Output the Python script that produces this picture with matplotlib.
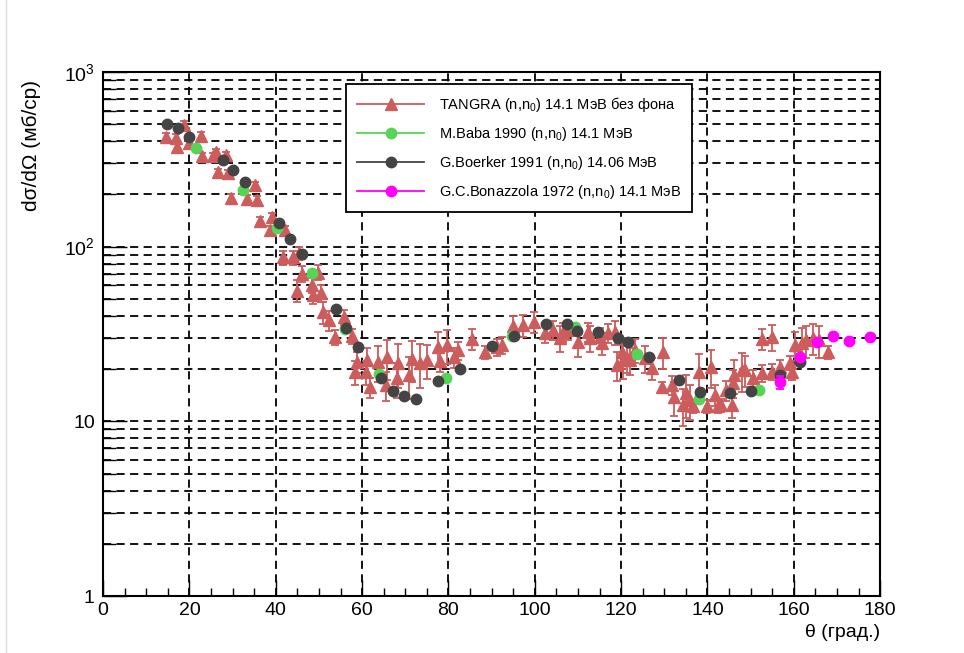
import math
import matplotlib
matplotlib.use("Agg")
import matplotlib.pyplot as plt
from matplotlib.ticker import MultipleLocator, LogLocator, NullFormatter, FuncFormatter
from matplotlib.lines import Line2D

plt.rcParams["font.family"] = ["Liberation Sans", "DejaVu Sans"]
plt.rcParams["mathtext.default"] = "regular"

# TANGRA (n,n0) 14.1 MeV, background subtracted
tangra_theta = [14.6, 16.9, 17.1, 18.8, 19.9, 22.7, 22.9, 25.5, 26.2, 26.6,
                28.5, 29.0, 29.7, 33.4, 35.2, 35.7, 36.4, 38.7, 39.1, 41.7,
                42.2, 44.0, 45.4, 44.9, 46.1, 48.4, 48.6, 49.8, 50.5, 51.0,
                52.4, 53.7, 55.8, 57.7, 58.4, 58.8, 60.9, 61.2, 61.8, 63.7,
                65.6, 65.8, 68.1, 68.3, 70.9, 71.6, 73.4, 75.0, 77.6, 78.1,
                79.7, 81.3, 82.2, 85.5, 88.5, 91.2, 92.4, 95.0, 97.3, 99.9,
                102.4, 104.2, 105.8, 106.6, 107.7, 110.0, 112.4, 112.8, 115.1, 115.6,
                117.0, 118.6, 119.0, 120.2, 120.5, 121.4, 122.1, 123.2, 125.5, 127.2,
                129.5, 129.7, 131.8, 132.3, 134.4, 135.1, 136.0, 136.7, 138.1, 139.9,
                140.9, 141.8, 142.5, 143.2, 144.3, 145.7, 145.9, 146.2, 148.0, 148.7,
                150.6, 152.6, 152.6, 155.0, 155.0, 156.8, 159.1, 159.6, 160.3, 161.9,
                162.9, 164.5, 165.9, 167.9]
tangra_xs = [424, 420, 371, 497, 392, 430, 330, 330, 348, 267,
             334, 264, 190, 187, 225, 185, 140, 124, 148, 87,
             124, 87, 92, 56, 70, 60, 53, 71, 54, 42,
             38, 30.4, 39.6, 30.8, 19.2, 21.9, 19.2, 22.4, 15.7, 21.9,
             16.1, 23.3, 17.7, 21.6, 18.4, 22.7, 21.6, 22.4, 26.6, 22.1,
             27.3, 23.3, 25.6, 29.6, 24.9, 26.6, 27.3, 35.1, 35.6, 37.0,
             32.0, 33.3, 30.0, 32.5, 33.3, 28.4, 32.5, 30.0, 30.4, 28.1,
             32.0, 32.5, 21.0, 24.9, 22.4, 23.0, 22.4, 25.6, 23.0, 20.2,
             15.7, 24.9, 16.1, 13.8, 12.4, 14.5, 13.2, 12.2, 19.2, 12.2,
             20.5, 14.2, 12.2, 12.4, 15.1, 12.4, 16.6, 18.4, 19.7, 19.7,
             17.7, 29.6, 18.9, 19.2, 30.4, 20.5, 21.6, 19.2, 27.3, 28.1,
             29.2, 30.0, 29.2, 24.9]
tangra_err = [20, 20, 20, 25, 20, 20, 15, 15, 15, 12,
              15, 12, 10, 10, 10, 10, 8, 8, 8, 8,
              8, 8, 8, 8, 7, 6, 6, 7, 6, 6,
              5, 3, 4, 3, 3, 3, 3, 4, 2, 5,
              3, 6, 4, 6, 5, 6, 6, 5, 6, 3,
              6, 3, 3, 4, 2, 3, 3, 5, 5, 5,
              4, 4, 5, 4, 4, 5, 4, 5, 4, 4,
              4, 5, 4, 5, 5, 4, 4, 4, 4, 3,
              1, 5, 2, 3, 3, 4, 3, 1, 5, 1,
              5, 2, 1, 1, 2, 2, 3, 4, 5, 4,
              2, 4, 2, 2, 5, 2, 2, 2, 5, 6,
              6, 6, 6, 2]

# M.Baba 1990
baba_theta = [21.5, 32.4, 40.3, 48.4, 56.0, 63.9, 79.4, 94.7, 109.3, 123.7, 138.1, 151.9]
baba_xs = [367, 211, 128, 70.6, 33.8, 18.7, 17.7, 30.8, 34.7, 24.3, 13.4, 15.1]

# G.Boerker 1991
boerker_theta = [14.8, 17.4, 19.9, 27.8, 30.1, 32.9, 40.8, 43.3, 46.1, 54.0,
                 56.3, 59.1, 64.4, 67.2, 69.7, 72.5, 77.6, 82.7, 90.1, 95.2,
                 102.6, 107.5, 109.8, 114.7, 119.3, 121.6, 126.5, 133.4, 138.3, 145.2,
                 150.1, 156.8, 161.4]
boerker_xs = [503, 477, 424, 313, 274, 234, 136, 111, 90.7, 44,
              34.2, 26.6, 17.7, 14.9, 13.9, 13.4, 17.0, 19.9, 27.0, 30.8,
              36.1, 36.1, 32.9, 32.5, 30.0, 28.4, 23.4, 17.2, 14.7, 14.5,
              14.9, 18.4, 21.9]

# G.C.Bonazzola 1972
bonaz_theta = [156.8, 161.4, 165.4, 169.1, 172.8, 177.7]
bonaz_xs = [16.8, 23.3, 28.4, 30.8, 28.8, 30.4]
bonaz_err = [1.5, 1.0, 0.8, 0.8, 0.8, 0.8]

red = "#cd5c5c"
green = "#55d455"
dark = "#444444"
magenta = "#ff00ff"

fig = plt.figure(figsize=(9.64, 6.53), dpi=100)
ax = fig.add_axes([0.107, 0.087, 0.806, 0.803])

ax.errorbar(tangra_theta, tangra_xs, yerr=tangra_err, fmt="^", color=red,
            ms=8, elinewidth=1.3, capsize=3, capthick=1.3, zorder=3)
ax.plot(baba_theta, baba_xs, "o", color=green, ms=7.5, zorder=4)
ax.plot(boerker_theta, boerker_xs, "o", color=dark, ms=7.5, zorder=5)
ax.errorbar(bonaz_theta, bonaz_xs, yerr=bonaz_err, fmt="o", color=magenta,
            ms=7.5, elinewidth=1.3, capsize=3, capthick=1.3, zorder=6)

ax.set_xlim(0, 180)
ax.set_yscale("log")
ax.set_ylim(1, 1000)

ax.xaxis.set_major_locator(MultipleLocator(20))
ax.xaxis.set_minor_locator(MultipleLocator(5))
ax.yaxis.set_major_locator(LogLocator(base=10))
ax.yaxis.set_minor_locator(LogLocator(base=10, subs=range(2, 10)))
ax.yaxis.set_minor_formatter(NullFormatter())


def decade_label(v, pos):
    if v < 1.5:
        return "1"
    if v < 15:
        return "10"
    return "$10^{%d}$" % round(math.log10(v))


ax.yaxis.set_major_formatter(FuncFormatter(decade_label))

ax.tick_params(axis="x", which="major", direction="in", length=11.5, width=1,
               labelsize=14, pad=4)
ax.tick_params(axis="x", which="minor", direction="in", length=6, width=1)
ax.tick_params(axis="y", which="major", direction="in", length=17, width=1,
               labelsize=14, pad=6)
ax.tick_params(axis="y", which="minor", direction="in", length=9.5, width=1)

dash = (0, (4.5, 3))
ax.grid(True, axis="x", which="major", color="black", linestyle=dash, lw=1.3)
ax.grid(True, axis="y", which="both", color="black", linestyle=dash, lw=1.3)
ax.set_axisbelow(True)

for s in ax.spines.values():
    s.set_linewidth(1.5)

ax.set_xlabel("θ (град.)", fontsize=14, loc="right", labelpad=4)
ax.set_ylabel("dσ/dΩ (мб/ср)", fontsize=15, loc="top", labelpad=10)
ax.yaxis.set_label_coords(-0.08, 0.985, transform=ax.transAxes)
ax.yaxis.label.set_horizontalalignment("right")

handles = [
    Line2D([], [], color=red, marker="^", ms=8, lw=1.3),
    Line2D([], [], color=green, marker="o", ms=7.5, lw=1.3),
    Line2D([], [], color=dark, marker="o", ms=7.5, lw=1.3),
    Line2D([], [], color=magenta, marker="o", ms=7.5, lw=1.3),
]
labels = [
    "TANGRA (n,n$_0$) 14.1 МэВ без фона",
    "M.Baba 1990 (n,n$_0$) 14.1 МэВ",
    "G.Boerker 1991 (n,n$_0$) 14.06 МэВ",
    "G.C.Bonazzola 1972 (n,n$_0$) 14.1 МэВ",
]
leg = ax.legend(handles, labels, loc="upper left", bbox_to_anchor=(0.313, 0.977),
                fontsize=10.5, frameon=True, fancybox=False, framealpha=1,
                edgecolor="black", handlelength=4.6, handletextpad=1.0,
                labelspacing=0.75, borderpad=0.75, borderaxespad=0)
leg.get_frame().set_linewidth(1.3)
leg.set_zorder(10)

# thin canvas edge on the left
fig.add_artist(Line2D([0.006, 0.006], [0, 1], transform=fig.transFigure,
                      color="#dddddd", lw=1))

fig.savefig("out.png", dpi=100)
